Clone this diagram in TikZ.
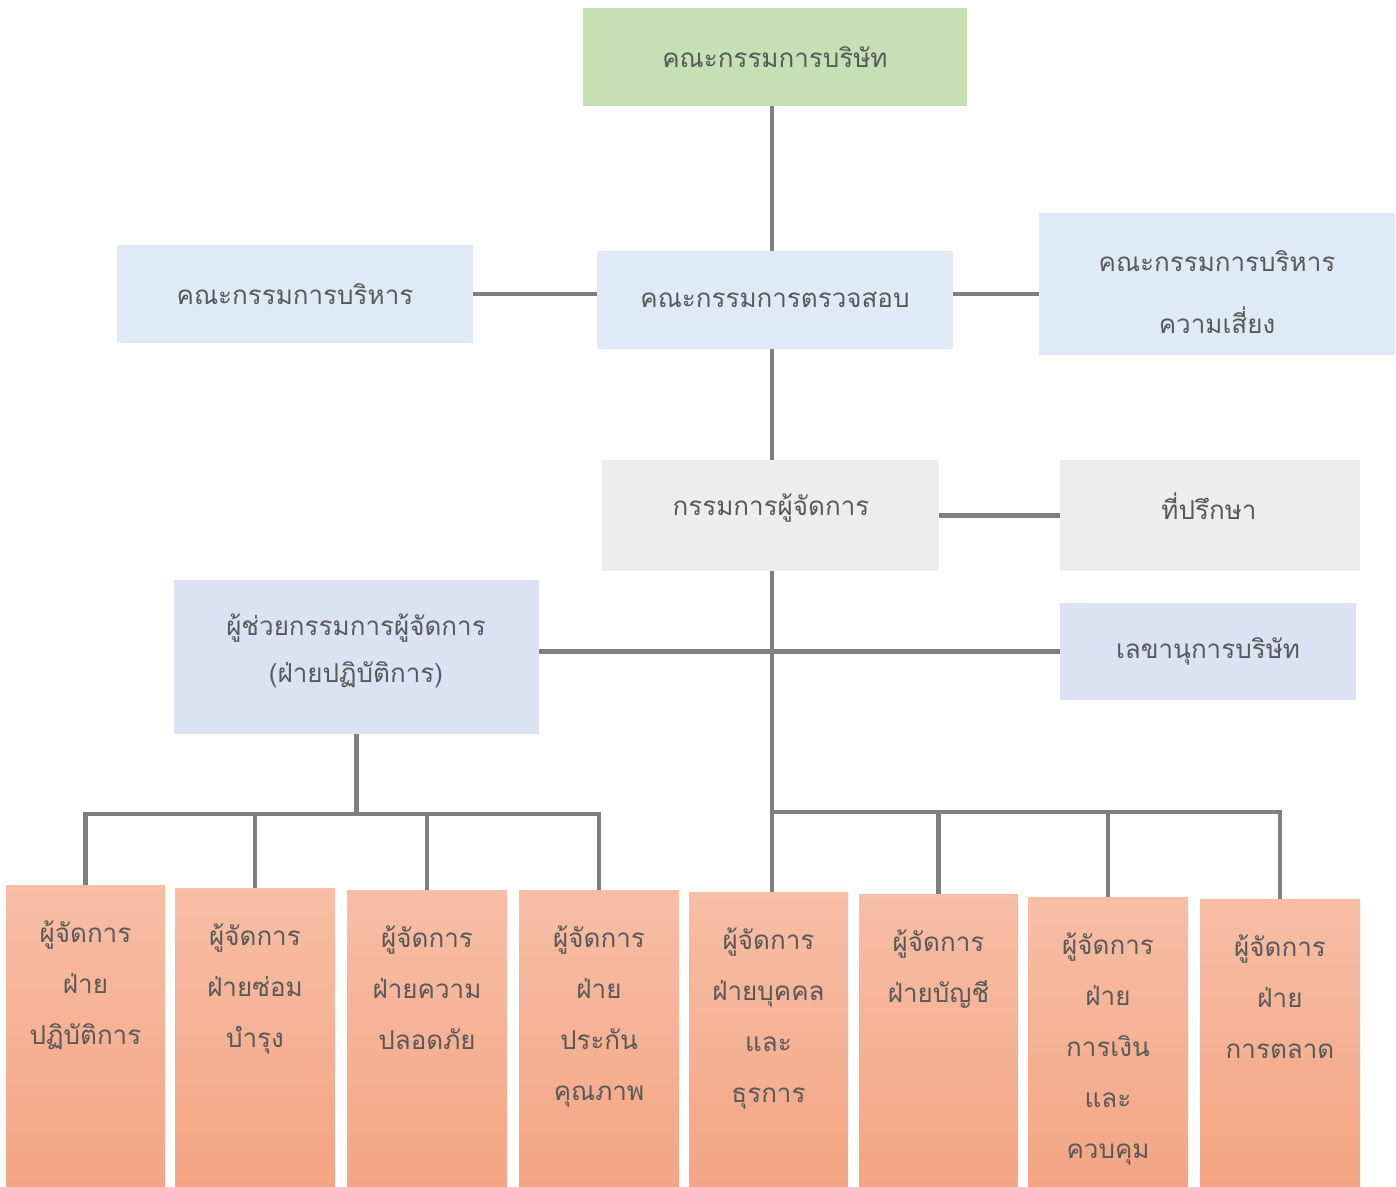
\documentclass[tikz,border=0pt]{standalone}
\usepackage{fontspec}
\newfontfamily\thaifont[Script=Thai]{Loma}
\definecolor{boardgreen}{HTML}{C5E0B4}
\definecolor{paleblue}{HTML}{DEEBF7}
\definecolor{lavblue}{HTML}{DAE3F3}
\definecolor{palegray}{HTML}{EDEDED}
\definecolor{salmontop}{HTML}{F7BEA5}
\definecolor{salmonbot}{HTML}{F4A584}
\definecolor{txtgray}{HTML}{595959}
\definecolor{linegray}{HTML}{7F7F7F}
\tikzset{
  box/.style={inner sep=0pt, draw=none, text=txtgray, align=center,
    font=\thaifont\fontsize{26}{32}\selectfont},
  deptbox/.style={inner sep=0pt, draw=none, top color=salmontop, bottom color=salmonbot},
  depttext/.style={inner sep=0pt, anchor=north, text=txtgray, align=center,
    font=\thaifont\fontsize{26}{51}\selectfont},
  conn/.style={draw=linegray, line width=4.5pt}
}
\begin{document}
\begin{tikzpicture}[x=1pt,y=-1pt]
\useasboundingbox (0,0) rectangle (1396,1186);
% top boxes
\node[box, fill=boardgreen, minimum width=384pt, minimum height=98pt] (board) at (775,57) {คณะกรรมการบริษัท};
\node[box, fill=paleblue, minimum width=356pt, minimum height=98pt] (exec) at (295,294) {คณะกรรมการบริหาร};
\node[box, fill=paleblue, minimum width=356pt, minimum height=98pt] (audit) at (775,300) {คณะกรรมการตรวจสอบ};
\node[box, fill=paleblue, minimum width=356pt, minimum height=142pt] (risk) at (1217,284) {};
\node[box, anchor=center] (risktext) at (1217,292) {คณะกรรมการบริหาร\\[30pt]ความเสี่ยง};
\node[box, fill=palegray, minimum width=337pt, minimum height=111pt] (md) at (770.5,515.5) {};
\node[box] (mdtext) at (771,508) {กรรมการผู้จัดการ};
\node[box, fill=palegray, minimum width=300pt, minimum height=111pt] (adv) at (1210,515.5) {};
\node[box] (advtext) at (1209,506) {ที่ปรึกษา};
\node[box, fill=lavblue, minimum width=365pt, minimum height=154pt] (assist) at (356.5,657) {};
\node[box] (assisttext) at (356,651) {ผู้ช่วยกรรมการผู้จัดการ\\[15pt](ฝ่ายปฏิบัติการ)};
\node[box, fill=lavblue, minimum width=296pt, minimum height=97pt] (sec) at (1208,651.5) {เลขานุการบริษัท};
% department boxes
\node[deptbox, minimum width=159pt, minimum height=301pt] (b1) at (85.5,1035.5) {};
\node[deptbox, minimum width=160pt, minimum height=298pt] (b2) at (255,1037) {};
\node[deptbox, minimum width=160pt, minimum height=296pt] (b3) at (427,1038) {};
\node[deptbox, minimum width=160pt, minimum height=296pt] (b4) at (599,1038) {};
\node[deptbox, minimum width=159pt, minimum height=294pt] (b5) at (768.5,1039) {};
\node[deptbox, minimum width=159pt, minimum height=292pt] (b6) at (938.5,1040) {};
\node[deptbox, minimum width=160pt, minimum height=289pt] (b7) at (1108,1041.5) {};
\node[deptbox, minimum width=160pt, minimum height=287pt] (b8) at (1280,1042.5) {};
\node[depttext] (t1) at ([yshift=-36pt]b1.north) {ผู้จัดการ\\ฝ่าย\\ปฏิบัติการ};
\node[depttext] (t2) at ([yshift=-36pt]b2.north) {ผู้จัดการ\\ฝ่ายซ่อม\\บำรุง};
\node[depttext] (t3) at ([yshift=-36pt]b3.north) {ผู้จัดการ\\ฝ่ายความ\\ปลอดภัย};
\node[depttext] (t4) at ([yshift=-36pt]b4.north) {ผู้จัดการ\\ฝ่าย\\ประกัน\\คุณภาพ};
\node[depttext] (t5) at ([yshift=-36pt]b5.north) {ผู้จัดการ\\ฝ่ายบุคคล\\และ\\ธุรการ};
\node[depttext] (t6) at ([yshift=-36pt]b6.north) {ผู้จัดการ\\ฝ่ายบัญชี};
\node[depttext] (t7) at ([yshift=-36pt]b7.north) {ผู้จัดการ\\ฝ่าย\\การเงิน\\และ\\ควบคุม};
\node[depttext] (t8) at ([yshift=-36pt]b8.north) {ผู้จัดการ\\ฝ่าย\\การตลาด};
% connectors
\coordinate (spine) at (772,0);
\coordinate (lbus) at (0,814);
\coordinate (rbus) at (0,812);
\draw[conn] (board.south -| spine) -- (audit.north -| spine);
\draw[conn] (exec.east) -- (exec.east -| audit.west);
\draw[conn] (audit.east |- exec.east) -- (risk.west |- exec.east);
\draw[conn] (audit.south -| spine) -- (md.north -| spine);
\draw[conn] (md.east |- adv.center) -- (adv.west);
\draw[conn] (assist.east |- sec.west) -- (sec.west);
\draw[conn] (md.south -| spine) -- (b5.north -| spine);
\draw[conn] (assist.south) -- (assist.south |- lbus) coordinate (lj);
\draw[conn] (b1.north) |- (lj) -| (b4.north);
\draw[conn] (b2.north) -- (b2.north |- lj);
\draw[conn] (b3.north) -- (b3.north |- lj);
\draw[conn] (spine |- rbus) coordinate (rj) -| (b8.north);
\draw[conn] (b6.north) -- (b6.north |- rj);
\draw[conn] (b7.north) -- (b7.north |- rj);
\end{tikzpicture}
\end{document}
